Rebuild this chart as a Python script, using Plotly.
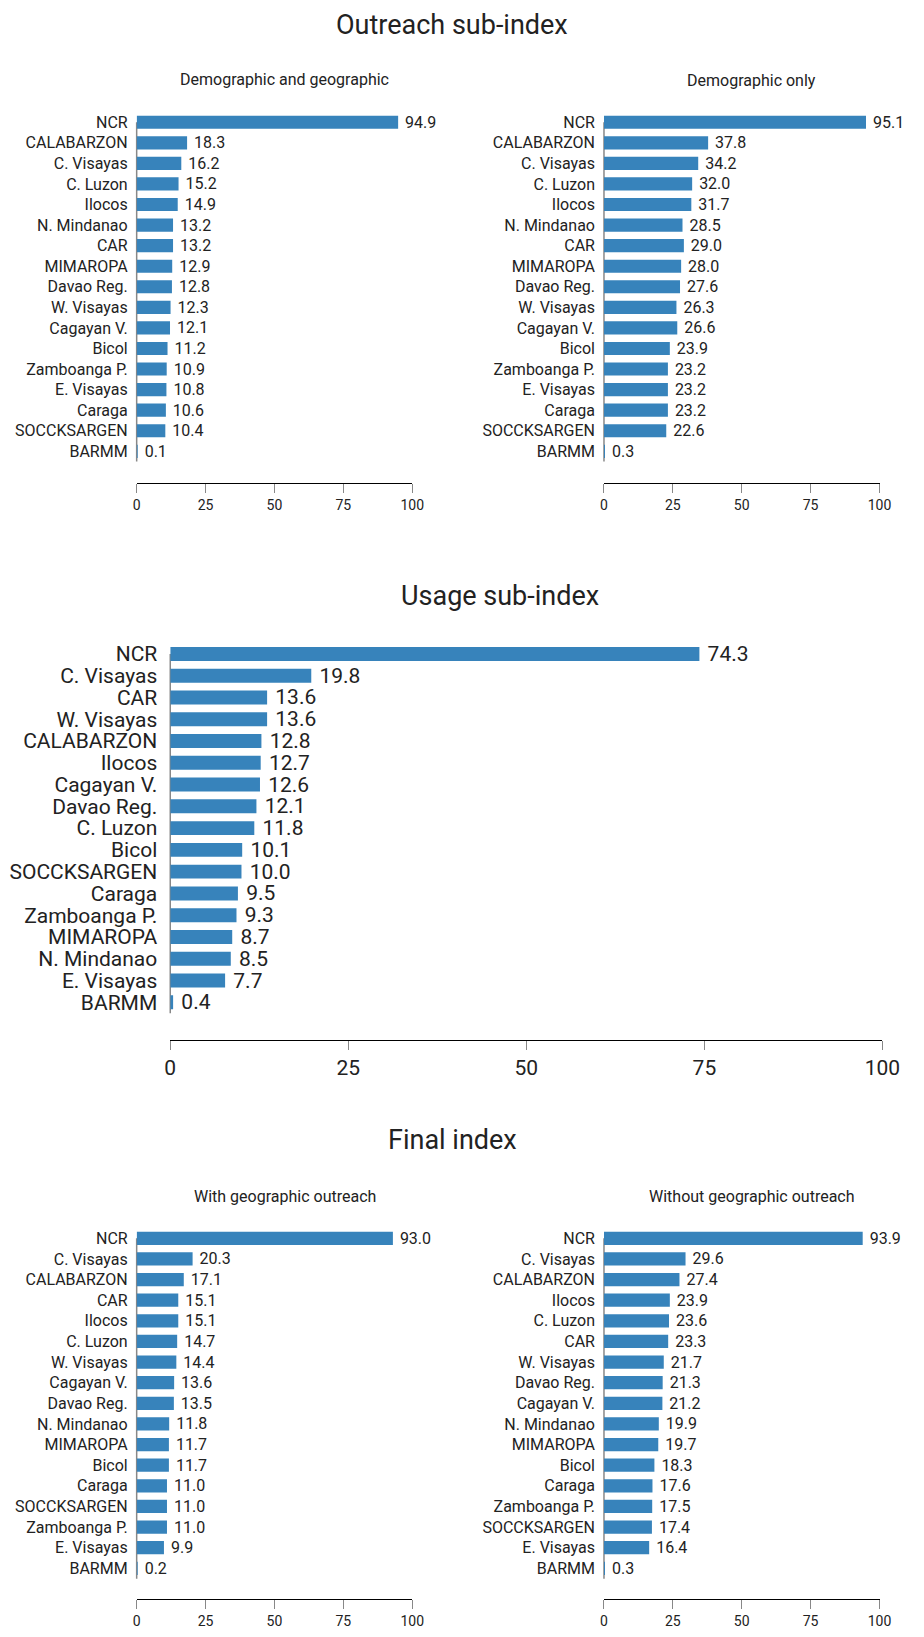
import plotly.graph_objects as go

# Outreach sub-index, demographic and geographic
outreach_geo_regions = ["NCR", "CALABARZON", "C. Visayas", "C. Luzon", "Ilocos", "N. Mindanao", "CAR",
                        "MIMAROPA", "Davao Reg.", "W. Visayas", "Cagayan V.", "Bicol", "Zamboanga P.",
                        "E. Visayas", "Caraga", "SOCCKSARGEN", "BARMM"]
outreach_geo_values = [94.9, 18.3, 16.2, 15.2, 14.9, 13.2, 13.2, 12.9, 12.8, 12.3, 12.1, 11.2, 10.9,
                       10.8, 10.6, 10.4, 0.1]

# Outreach sub-index, demographic only
outreach_demo_regions = ["NCR", "CALABARZON", "C. Visayas", "C. Luzon", "Ilocos", "N. Mindanao", "CAR",
                         "MIMAROPA", "Davao Reg.", "W. Visayas", "Cagayan V.", "Bicol", "Zamboanga P.",
                         "E. Visayas", "Caraga", "SOCCKSARGEN", "BARMM"]
outreach_demo_values = [95.1, 37.8, 34.2, 32.0, 31.7, 28.5, 29.0, 28.0, 27.6, 26.3, 26.6, 23.9, 23.2,
                        23.2, 23.2, 22.6, 0.3]

# Usage sub-index
usage_regions = ["NCR", "C. Visayas", "CAR", "W. Visayas", "CALABARZON", "Ilocos", "Cagayan V.",
                 "Davao Reg.", "C. Luzon", "Bicol", "SOCCKSARGEN", "Caraga", "Zamboanga P.",
                 "MIMAROPA", "N. Mindanao", "E. Visayas", "BARMM"]
usage_values = [74.3, 19.8, 13.6, 13.6, 12.8, 12.7, 12.6, 12.1, 11.8, 10.1, 10.0, 9.5, 9.3,
                8.7, 8.5, 7.7, 0.4]

# Final index, with geographic outreach
final_geo_regions = ["NCR", "C. Visayas", "CALABARZON", "CAR", "Ilocos", "C. Luzon", "W. Visayas",
                     "Cagayan V.", "Davao Reg.", "N. Mindanao", "MIMAROPA", "Bicol", "Caraga",
                     "SOCCKSARGEN", "Zamboanga P.", "E. Visayas", "BARMM"]
final_geo_values = [93.0, 20.3, 17.1, 15.1, 15.1, 14.7, 14.4, 13.6, 13.5, 11.8, 11.7, 11.7, 11.0,
                    11.0, 11.0, 9.9, 0.2]

# Final index, without geographic outreach
final_nogeo_regions = ["NCR", "C. Visayas", "CALABARZON", "Ilocos", "C. Luzon", "CAR", "W. Visayas",
                       "Davao Reg.", "Cagayan V.", "N. Mindanao", "MIMAROPA", "Bicol", "Caraga",
                       "Zamboanga P.", "SOCCKSARGEN", "E. Visayas", "BARMM"]
final_nogeo_values = [93.9, 29.6, 27.4, 23.9, 23.6, 23.3, 21.7, 21.3, 21.2, 19.9, 19.7, 18.3, 17.6,
                      17.5, 17.4, 16.4, 0.3]

x_ticks = [0, 25, 50, 75, 100]

# page has an 8px body margin, so the figure is a bit smaller than the window
OFF = 8
W, H = 924 - 2 * OFF, 1637 - 2 * OFF
BAR_COLOR = "#3783bb"
FONT = "Roboto"
TEXT = "#222222"


def px_x(v):
    return (v - OFF) / W


def px_y(v):
    return 1 - (v - OFF) / H


fig = go.Figure()

# (regions, values, x pixels, y band pixels, x-axis line pixel, label size, tick size, label gap)
panels = [
    (outreach_geo_regions, outreach_geo_values, (134, 417), (111.6, 463.4), 485, 16, 14, 8),
    (outreach_demo_regions, outreach_demo_values, (614, 897), (111.6, 463.4), 485, 16, 14, 8),
    (usage_regions, usage_values, (168.5, 900), (646, 1018.4), 1045, 21, 21, 12),
    (final_geo_regions, final_geo_values, (134, 417), (1234.6, 1587.4), 1608, 16, 14, 8),
    (final_nogeo_regions, final_nogeo_values, (614, 897), (1234.6, 1587.4), 1608, 16, 14, 8),
]

for i, (regions, values, xpx, ypx, axis_y, fsize, tsize, gap) in enumerate(panels, start=1):
    sfx = "" if i == 1 else str(i)
    fig.add_trace(go.Bar(
        x=values, y=regions, orientation="h",
        marker=dict(color=BAR_COLOR, line=dict(width=0)),
        text=values, texttemplate="\u00a0%{x:.1f}", textposition="outside",
        textfont=dict(family=FONT, size=fsize, color=TEXT),
        constraintext="none", cliponaxis=False,
        xaxis="x" + sfx, yaxis="y" + sfx, showlegend=False, hoverinfo="skip",
    ))
    fig.layout["xaxis" + sfx] = dict(
        domain=[px_x(xpx[0]), px_x(xpx[1])], range=[0, 100],
        anchor="free", position=px_y(axis_y),
        tickvals=x_ticks, ticks="outside", ticklen=9, tickcolor="#888888", tickwidth=1,
        showline=True, linecolor="#000000", linewidth=1,
        showgrid=False, zeroline=False,
        tickfont=dict(family=FONT, size=tsize, color=TEXT),
    )
    fig.layout["yaxis" + sfx] = dict(
        domain=[px_y(ypx[1]), px_y(ypx[0])], anchor="x" + sfx,
        autorange="reversed", type="category",
        tickvals=regions, ticktext=regions,
        showline=False, showgrid=False, zeroline=False, ticks="",
        ticklabelstandoff=gap,
        tickfont=dict(family=FONT, size=fsize, color=TEXT),
    )
    # grey y-axis rule, starting at the first band centre like the original
    fig.add_shape(
        type="line", layer="below",
        xref="x" + sfx + " domain", yref="y" + sfx + " domain",
        x0=0, x1=0, y0=0, y1=1 - 0.5 / len(regions),
        line=dict(color="#888888", width=1.5),
    )

titles = [
    ("Outreach sub-index", 458, 24, 27),
    ("Demographic and geographic", 286, 79, 16),
    ("Demographic only", 766, 80, 16),
    ("Usage sub-index", 507, 599, 27),
    ("Final index", 458, 1146, 27),
    ("With geographic outreach", 286, 1203, 16),
    ("Without geographic outreach", 766, 1203, 16),
]
for txt, x, y, size in titles:
    fig.add_annotation(
        text=txt, x=px_x(x), y=px_y(y), xref="paper", yref="paper",
        xanchor="center", yanchor="middle", showarrow=False,
        font=dict(family=FONT, size=size, color=TEXT),
    )

fig.update_layout(
    width=W, height=H,
    margin=dict(l=0, r=0, t=0, b=0),
    paper_bgcolor="white", plot_bgcolor="white",
    bargap=0.36,
    font=dict(family=FONT, color=TEXT),
)

fig.write_html("out.html")
